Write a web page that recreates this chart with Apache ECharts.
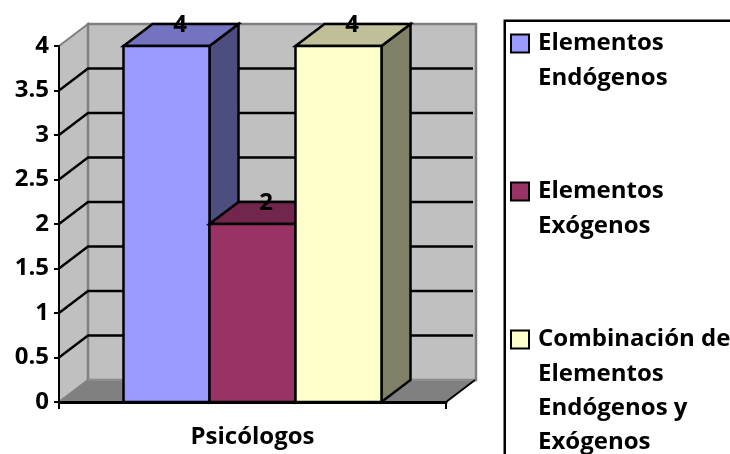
<!DOCTYPE html>
<html>
<head>
<meta charset="utf-8">
<style>html,body{margin:0;padding:0;background:#fff}#c{width:730px;height:454px}</style>
<script src="https://cdn.jsdelivr.net/npm/echarts@6/dist/echarts.min.js"></script>
</head>
<body>
<div id="c"></div>
<script>
const categories = ['Psicólogos'];
const seriesNames = ['Elementos Endógenos', 'Elementos Exógenos', 'Combinación de Elementos Endógenos y Exógenos'];
const endogenos = [4];
const exogenos = [2];
const combinacion = [4];
const yTicks = [0, 0.5, 1, 1.5, 2, 2.5, 3, 3.5, 4];
const legendLines = [
  ['Elementos', 'Endógenos'],
  ['Elementos', 'Exógenos'],
  ['Combinación de', 'Elementos', 'Endógenos y', 'Exógenos']
];

const FONT = '"Open Sans"';
const DX = 29, DY = -22;
const frontColors = ['#9999FF', '#993366', '#FFFFCC'];
const topColors = ['#7373BF', '#73264D', '#BFBF99'];
const sideColors = ['#4D4D80', '#4D1A33', '#808066'];

function poly(points, fill, stroke, lineWidth) {
  return {
    type: 'polygon',
    shape: { points },
    style: { fill, stroke: stroke || null, lineWidth: lineWidth || 0, lineJoin: 'miter' }
  };
}

function renderWall(params, api) {
  const cs = params.coordSys;
  const t = api.value(1);
  const p = api.coord([0, t]);
  const x0 = cs.x, x1 = cs.x + cs.width, yb = cs.y + cs.height, yt = cs.y;
  const children = [];
  if (params.dataIndex === 0) {
    children.push(poly([[x0, yt], [x0 + DX, yt + DY], [x0 + DX, yb + DY], [x0, yb]], '#C0C0C0', '#808080', 2));
    children.push(poly([[x0 + DX, yt + DY], [x1 + DX + 1, yt + DY], [x1 + DX + 1, yb + DY], [x0 + DX, yb + DY]], '#C0C0C0', '#808080', 2.5));
    children.push(poly([[x0, yb], [x0 + DX, yb + DY], [x1 + DX, yb + DY], [x1, yb]], '#808080', '#9A9A9A', 1));
    children.push({ type: 'line', shape: { x1: x1, y1: yb, x2: x1 + DX, y2: yb + DY }, style: { stroke: '#000', lineWidth: 2 } });
    children.push({ type: 'line', shape: { x1: x0, y1: yb, x2: x0 + DX, y2: yb + DY }, style: { stroke: '#808080', lineWidth: 1.5 } });
  } else if (t < yTicks[yTicks.length - 1]) {
    children.push({
      type: 'polyline',
      shape: { points: [[x0, p[1]], [x0 + DX, p[1] + DY], [x1 + DX - 2, p[1] + DY]] },
      style: { stroke: '#000', lineWidth: 2.4, fill: null }
    });
  }
  return { type: 'group', children };
}

function barRenderer(i) {
  return function (params, api) {
    const v = api.value(1);
    const band = api.size([1, 0])[0];
    const w = band / 4.5;
    const c = api.coord([api.value(0), v]);
    const base = api.coord([api.value(0), 0]);
    const l = c[0] + (i - 1.5) * w, r = l + w, t = c[1], b = base[1];
    const S = '#000', LW = 2.5;
    return {
      type: 'group',
      children: [
        poly([[r, t], [r + DX, t + DY], [r + DX, b + DY], [r, b]], sideColors[i], S, LW),
        poly([[l, t], [l + DX, t + DY], [r + DX, t + DY], [r, t]], topColors[i], S, LW),
        poly([[l, t], [r, t], [r, b], [l, b]], frontColors[i], S, LW),
        {
          type: 'text',
          z2: 100,
          style: {
            text: String(v),
            x: l + w / 2 + DX / 2 - 1,
            y: t + DY + 1,
            align: 'center',
            verticalAlign: 'middle',
            fill: '#000',
            font: 'bold 24px ' + FONT
          }
        }
      ]
    };
  };
}

const values = [endogenos, exogenos, combinacion];
const legendTops = [-13, 135, 214];
const legendTextStyle = { color: '#000', fontFamily: '"Open Sans"', fontWeight: 'bold', fontSize: 24, lineHeight: 34.4, padding: [10, 0, 0, 1] };

const chart = echarts.init(document.getElementById('c'), null, { renderer: 'canvas' });
chart.setOption({
  animation: false,
  backgroundColor: '#fff',
  grid: { left: 59, right: 284, top: 46, bottom: 52, containLabel: false },
  xAxis: {
    type: 'category',
    data: categories,
    z: 10,
    axisLine: { lineStyle: { color: '#000', width: 3 } },
    axisTick: { show: true, length: 7, lineStyle: { color: '#000', width: 2 } },
    axisLabel: { color: '#000', fontFamily: '"Open Sans"', fontWeight: 'bold', fontSize: 24, margin: 23 }
  },
  yAxis: {
    type: 'value',
    min: 0,
    max: 4,
    interval: 0.5,
    z: 10,
    splitLine: { show: false },
    axisLine: { show: true, lineStyle: { color: '#000', width: 2 } },
    axisTick: { show: true, length: 5, lineStyle: { color: '#000', width: 2 } },
    axisLabel: { color: '#000', fontFamily: '"Open Sans"', fontWeight: 'bold', fontSize: 24, margin: 10 }
  },
  legend: seriesNames.map((name, i) => ({
    show: true,
    data: [name],
    orient: 'vertical',
    left: 510,
    top: legendTops[i],
    padding: 0,
    itemWidth: 24,
    itemHeight: 18,
    itemGap: 0,
    selectedMode: false,
    icon: 'path://M0 0H18V18H0Z',
    itemStyle: { borderColor: '#000', borderWidth: 2 },
    textStyle: legendTextStyle,
    formatter: () => {
      const lines = legendLines[i];
      return new Array(lines.length - 1).fill('').concat(lines).join('\n');
    }
  })),
  graphic: [{
    type: 'rect',
    left: 503.5,
    top: 19.5,
    shape: { width: 300, height: 500 },
    style: { fill: 'transparent', stroke: '#000', lineWidth: 2.5 },
    silent: true
  }],
  series: [
    {
      type: 'custom',
      name: 'walls',
      z: 1,
      clip: false,
      silent: true,
      renderItem: renderWall,
      data: yTicks.map(t => [0, t]),
      encode: { x: 0, y: 1 }
    }
  ].concat(seriesNames.map((name, i) => ({
    type: 'custom',
    name,
    z: 2 + i,
    clip: false,
    itemStyle: { color: frontColors[i] },
    renderItem: barRenderer(i),
    data: categories.map((c, k) => [k, values[i][k]]),
    encode: { x: 0, y: 1 }
  })))
});
</script>
</body>
</html>
